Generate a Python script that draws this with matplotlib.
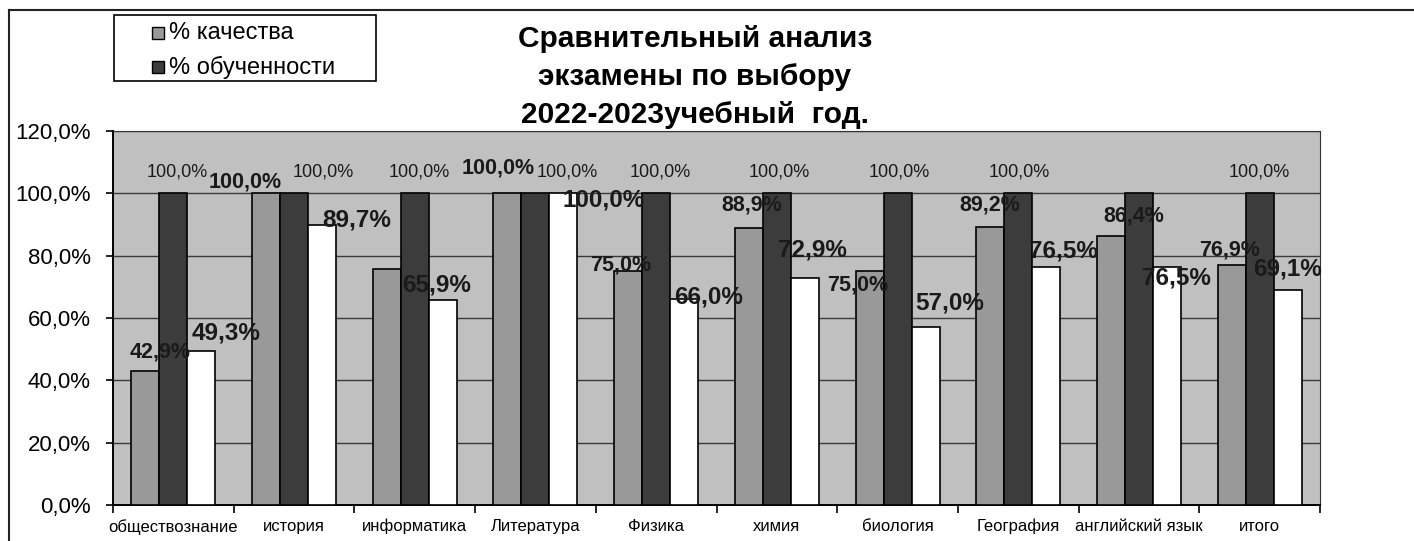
import numpy as np
import matplotlib.pyplot as plt
from matplotlib.lines import Line2D
from matplotlib.patches import Rectangle

plt.rcParams['font.family'] = ['Liberation Sans', 'DejaVu Sans']

subjects = ['обществознание', 'история', 'информатика', 'Литература', 'Физика',
            'химия', 'биология', 'География', 'английский язык', 'итого']
quality = [42.9, 100.0, 75.6, 100.0, 75.0, 88.9, 75.0, 89.2, 86.4, 76.9]
learning = [100.0, 100.0, 100.0, 100.0, 100.0, 100.0, 100.0, 100.0, 100.0, 100.0]
third = [49.3, 89.7, 65.9, 100.0, 66.0, 72.9, 57.0, 76.5, 76.5, 69.1]
series_names = ['% качества', '% обученности']
yticks = [0, 20, 40, 60, 80, 100, 120]

# label placement (pixels from bar top), None = label not shown
q_dx = [15, -21, None, -9, -7, 3, -12, 0, 23, -2]
q_dy = [19, 11, None, 25, 6, 23, -14, 22, 20, 15]
l_dx = [4, 29, 4, 32, 4, 2, 2, 1, None, 0]
t_dx = [25, 35, -6, 40, 24, 8, 24, 17, 9, 0]
t_dy = [18, 5, 15, -7, 2, 28, 24, 16, -11, 21]

W, H = 1414, 541
GRAY, DARK = '#999999', '#3c3c3c'


def fmt(v):
    return f'{v:.1f}%'.replace('.', ',')


fig = plt.figure(figsize=(W / 100, H / 100), dpi=100)
ax = fig.add_axes([113 / W, 1 - 505 / H, (1320 - 113) / W, (505 - 131) / H])
ax.set_facecolor('#c0c0c0')

x = np.arange(len(subjects))
w = 0.232
ax.bar(x - w, quality, w, color=GRAY, edgecolor='black', linewidth=1.2, zorder=3)
ax.bar(x, learning, w, color=DARK, edgecolor='black', linewidth=1.2, zorder=3)
ax.bar(x + w, third, w, color='white', edgecolor='black', linewidth=1.2, zorder=3)

for i in range(len(subjects)):
    if q_dx[i] is not None:
        ax.annotate(fmt(quality[i]), (x[i] - w, quality[i]), xytext=(q_dx[i], q_dy[i]),
                    textcoords='offset pixels', ha='center', va='center',
                    fontsize=15.5, fontweight='bold', color='#1a1a1a', zorder=5)
    if l_dx[i] is not None:
        ax.annotate(fmt(learning[i]), (x[i], learning[i]), xytext=(l_dx[i], 21),
                    textcoords='offset pixels', ha='center', va='center',
                    fontsize=13, color='#1a1a1a', zorder=5)
    ax.annotate(fmt(third[i]), (x[i] + w, third[i]), xytext=(t_dx[i], t_dy[i]),
                textcoords='offset pixels', ha='center', va='center',
                fontsize=17.5, fontweight='bold', color='#1a1a1a', zorder=5)

ax.set_xlim(-0.5, len(subjects) - 0.5)
ax.set_ylim(0, 120)
ax.set_yticks(yticks)
ax.set_yticklabels([fmt(v) for v in yticks], fontsize=16)
ax.set_xticks(x)
ax.set_xticklabels(subjects, fontsize=12)
ax.set_xticks(np.arange(len(subjects) + 1) - 0.5, minor=True)
ax.tick_params(axis='x', which='major', length=0, pad=10)
ax.tick_params(axis='x', which='minor', length=6, width=1.2)
ax.tick_params(axis='y', length=5, width=1.2, pad=11)
ax.grid(axis='y', color='#3a3a3a', linewidth=1, zorder=1)
for side in ['top', 'right']:
    ax.spines[side].set_color('#333333')
for side in ['left', 'bottom']:
    ax.spines[side].set_linewidth(1.4)

fig.text(695 / W, 1 - 77 / H, 'Сравнительный анализ\nэкзамены по выбору\n2022-2023учебный  год.',
         ha='center', va='center', fontsize=21.5, fontweight='bold', linespacing=1.45)

# legend box drawn by hand (only two series listed)
fig.add_artist(Rectangle((114 / W, 1 - 81 / H), (376 - 114) / W, (81 - 15) / H,
                         transform=fig.transFigure, facecolor='white',
                         edgecolor='black', lw=1.2))
for k, (name, col) in enumerate(zip(series_names, [GRAY, DARK])):
    yc = 33 + 34 * k
    fig.add_artist(Rectangle((152 / W, 1 - (yc + 6) / H), 12 / W, 12 / H,
                             transform=fig.transFigure, facecolor=col,
                             edgecolor='black', lw=1))
    fig.text(169 / W, 1 - yc / H, name, ha='left', va='center', fontsize=17)

fig.add_artist(Line2D([9 / W, 1], [1 - 10 / H] * 2, color='#222222', lw=1.5))
fig.add_artist(Line2D([9 / W] * 2, [0, 1 - 10 / H], color='#222222', lw=1.5))

fig.savefig('out.png', dpi=100)
